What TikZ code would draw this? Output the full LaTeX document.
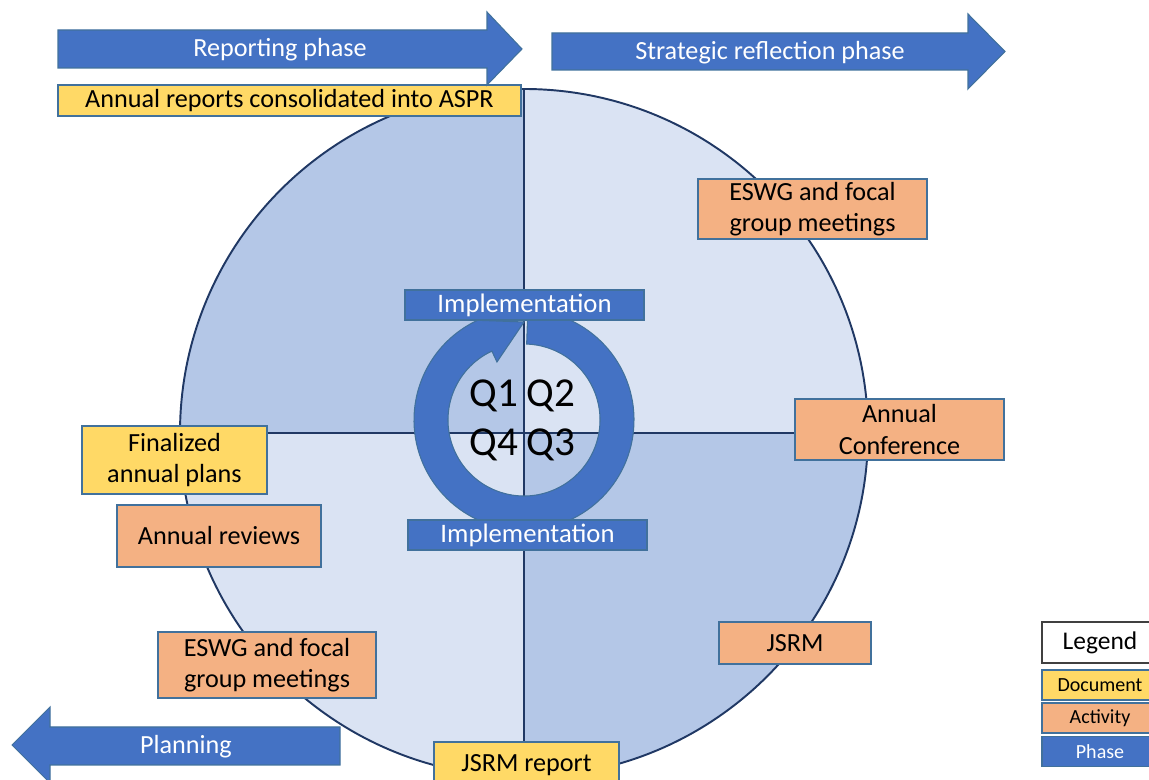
\documentclass[tikz,border=0pt]{standalone}
\usepackage{fontspec}
\setmainfont{Carlito}
\usetikzlibrary{positioning}
\definecolor{qdark}{HTML}{B4C7E7}
\definecolor{qlight}{HTML}{DAE3F3}
\definecolor{navy}{HTML}{203864}
\definecolor{phaseblue}{HTML}{4472C4}
\definecolor{boxline}{HTML}{41719C}
\definecolor{docyellow}{HTML}{FFD966}
\definecolor{actorange}{HTML}{F4B183}

\begin{document}
\begin{tikzpicture}[x=0.02cm, y=0.02cm,
  boxsize/.style 2 args={minimum width=#1*0.02cm, minimum height=#2*0.02cm},
  box/.style={draw=boxline, line width=0.6pt, align=center, inner sep=0pt,
    font=\fontsize{14.9}{17.8}\selectfont},
  docbox/.style={box, fill=docyellow},
  actbox/.style={box, fill=actorange},
  phasebox/.style={box, fill=phaseblue, text=white, font=\fontsize{15.2}{18}\selectfont},
  phasearrow/.style={fill=phaseblue, draw=boxline, line width=0.6pt},
  phasetext/.style={text=white, inner sep=0pt, font=\fontsize{14.9}{18}\selectfont},
  legendbox/.style={box, font=\fontsize{11.4}{13}\selectfont},
  quarter/.style={inner sep=0pt, font=\fontsize{23.4}{26}\selectfont},
  quadline/.style={draw=navy, line width=1.1pt}]
\useasboundingbox (0,0) rectangle (1149,780);

% quarters of the year
\coordinate (cyc) at (524,347);
\begin{scope}
  \clip (cyc) circle[radius=344];
  \fill[qdark] (cyc) rectangle ++(-350,350);
  \fill[qlight] (cyc) rectangle ++(350,350);
  \fill[qlight] (cyc) rectangle ++(-350,-350);
  \fill[qdark] (cyc) rectangle ++(350,-350);
\end{scope}
\coordinate (qL) at (180,347);
\coordinate (qR) at (868,347);
\coordinate (qT) at (524,691);
\coordinate (qB) at (524,3);
\draw[quadline] (qL) -- (qR);
\draw[quadline] (qT) -- (qB);
\draw[quadline] (cyc) circle[radius=344];

% circular arrow
\coordinate (ring) at (524,360);
\path[phasearrow, shift={(ring)}] (88:110) arc[start angle=88, end angle=-245, radius=110]
  -- (90:98) -- (-245:64) -- (-245:76) arc[start angle=-245, end angle=88, radius=76] -- cycle;

\node[quarter] (q1) at (494,384) {Q1};
\node[quarter] (q2) at (551,384) {Q2};
\node[quarter] (q4) at (494,335) {Q4};
\node[quarter] (q3) at (551,335) {Q3};

\node[phasebox, boxsize={239}{30}] (impltop) at (524.5,475) {Implementation};
\node[phasebox, boxsize={239}{30}] (implbot) at (527.5,245) {Implementation};

% documents and activities
\node[docbox, boxsize={463}{31}] (aspr) at (289.5,679.5) {Annual reports consolidated into ASPR};
\node[docbox, boxsize={185}{68}] (plans) at (174.5,320) {Finalized\\annual plans};
\node[docbox, boxsize={185}{46}] (jsrmrep) at (526.5,15) {JSRM report};
\node[actbox, boxsize={229}{60}] (eswgtop) at (812.5,571) {ESWG and focal\\group meetings};
\node[actbox, boxsize={209}{61}] (conf) at (899.5,350.5) {Annual\\Conference};
\node[actbox, boxsize={204}{62}] (reviews) at (219,244) {Annual reviews};
\node[actbox, boxsize={218}{66}] (eswgbot) at (267,115) {ESWG and focal\\group meetings};
\node[actbox, boxsize={152}{42}] (jsrm) at (795,137) {JSRM};

% phases
\path[phasearrow] (58,750) -- (487,750) -- (487,768) -- (522,731) -- (487,695) -- (487,712) -- (58,712) -- cycle;
\node[phasetext] (reporting) at (280,730) {Reporting phase};
\path[phasearrow] (552,747) -- (968,747) -- (968,766) -- (1005,728.5) -- (968,691) -- (968,710) -- (552,710) -- cycle;
\node[phasetext] (strategic) at (770,727.5) {Strategic reflection phase};
\path[phasearrow] (340,53) -- (50,53) -- (50,73) -- (12,35) -- (50,-3) -- (50,15) -- (340,15) -- cycle;
\node[phasetext] (planning) at (186,33) {Planning};

% legend
\node[box, draw=black!75, fill=white, boxsize={116}{41}, font=\fontsize{14.5}{17}\selectfont] (legend) at (1100,137.5) {Legend};
\node[legendbox, fill=docyellow, boxsize={116}{30}] (legdoc) at (1100,95) {Document};
\node[legendbox, fill=actorange, boxsize={116}{30}] (legact) at (1100,62) {Activity};
\node[legendbox, fill=phaseblue, text=white, boxsize={116}{30}] (legphase) at (1100,28.5) {Phase};
\end{tikzpicture}
\end{document}
